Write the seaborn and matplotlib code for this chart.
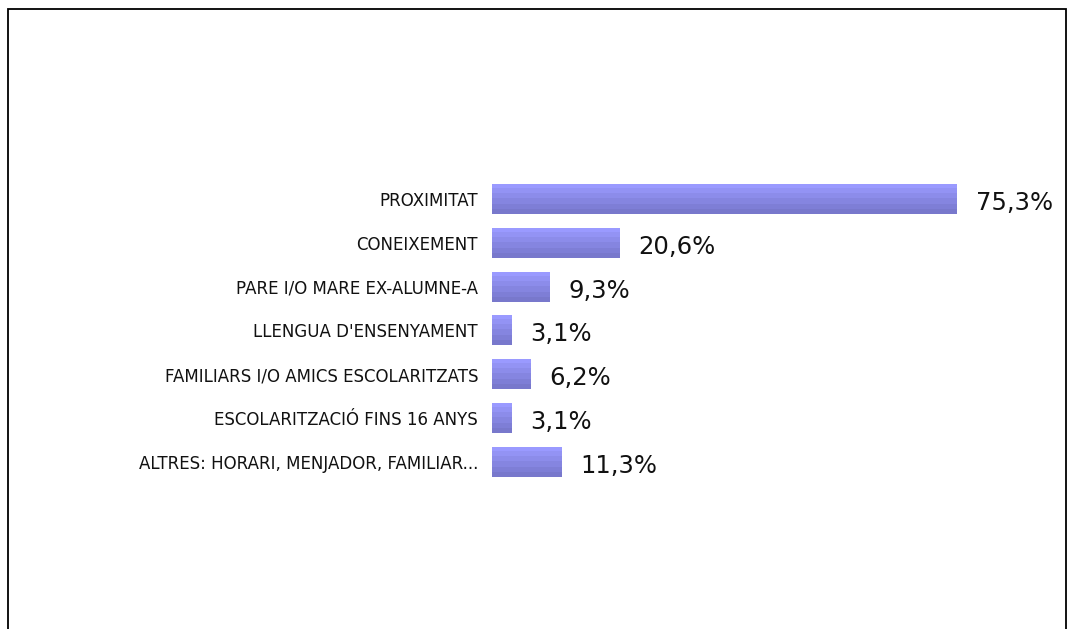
import numpy as np
import pandas as pd
import matplotlib
matplotlib.use("Agg")
import matplotlib.pyplot as plt
from matplotlib.colors import LinearSegmentedColormap
from matplotlib.patches import Rectangle
import seaborn as sns

categories = [
    "PROXIMITAT",
    "CONEIXEMENT",
    "PARE I/O MARE EX-ALUMNE-A",
    "LLENGUA D'ENSENYAMENT",
    "FAMILIARS I/O AMICS ESCOLARITZATS",
    "ESCOLARITZACIÓ FINS 16 ANYS",
    "ALTRES: HORARI, MENJADOR, FAMILIAR...",
]
values = [75.3, 20.6, 9.3, 3.1, 6.2, 3.1, 11.3]
value_labels = ["75,3%", "20,6%", "9,3%", "3,1%", "6,2%", "3,1%", "11,3%"]

sns.set_theme(style="white")
plt.rcParams["font.family"] = ["DejaVu Sans"]

W, H = 1068, 629
fig = plt.figure(figsize=(W / 100, H / 100), dpi=100)
fig.patch.set_facecolor("white")

# outer frame
frame = Rectangle((8 / W, -0.05), (1066 - 8) / W, 1.05 - 9 / H,
                  transform=fig.transFigure, fill=False, edgecolor="black",
                  linewidth=1.3, zorder=0)
fig.patches.append(frame)

ax = fig.add_axes([492 / W, 1 - 505.6 / H, 574 / W, 350.4 / H])
df = pd.DataFrame({"cat": categories, "val": values})
sns.barplot(data=df, y="cat", x="val", orient="h", ax=ax, width=0.685,
            color="#8c8cf0", saturation=1, linewidth=0)

cmap = LinearSegmentedColormap.from_list("g", ["#9a9aff", "#7878cc"])
grad = np.linspace(0, 1, 6).reshape(-1, 1)
for p in list(ax.patches):
    x0, y0 = p.get_x(), p.get_y()
    w, h = p.get_width(), p.get_height()
    im = ax.imshow(grad, cmap=cmap, aspect="auto", origin="upper",
                   extent=(x0, x0 + w, y0 + h, y0), interpolation="nearest",
                   zorder=2)
    im.set_clip_path(p)
    p.set_facecolor("none")

ax.set_xlim(0, 93)
ax.set_ylim(len(categories) - 0.0, -1)
for i, (v, lab) in enumerate(zip(values, value_labels)):
    ax.annotate(lab, xy=(v, i), xytext=(19, -4), textcoords="offset pixels",
                ha="left", va="center", fontsize=17.5, color="#111111")

ax.set_xlabel("")
ax.set_ylabel("")
ax.set_xticks([])
for s in ax.spines.values():
    s.set_visible(False)
ax.tick_params(axis="y", length=0, pad=10, labelsize=12, labelcolor="#111111")
ax.set_facecolor("none")

fig.savefig("out.png", dpi=100, facecolor="white")
